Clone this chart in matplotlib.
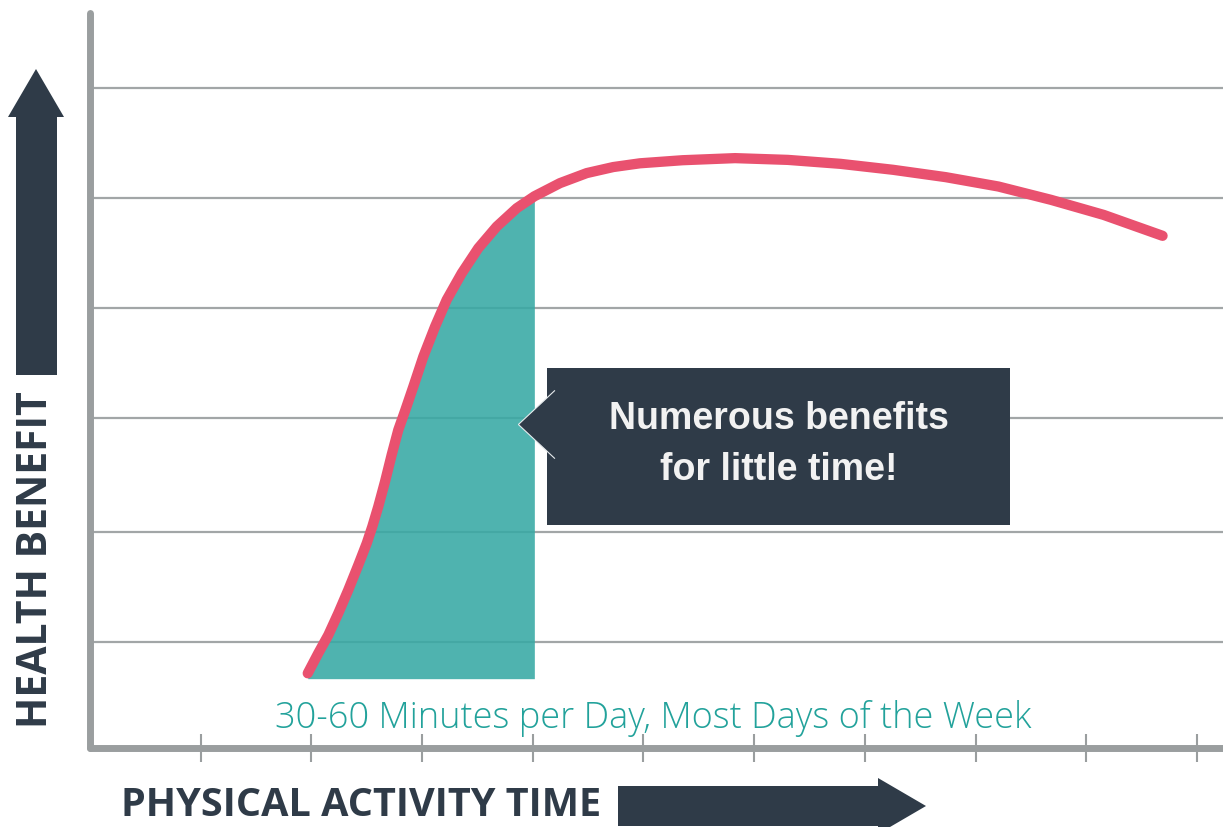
import matplotlib
matplotlib.use("Agg")
import matplotlib.pyplot as plt
from matplotlib.patches import Polygon, Rectangle
import numpy as np

# curve (x in tick units, y in gridline units)
time_x = [1.967, 2.062, 2.153, 2.243, 2.333, 2.424, 2.500, 2.550, 2.604,
          2.665, 2.725, 2.785, 2.846, 2.921, 3.011, 3.117, 3.222, 3.358,
          3.508, 3.674, 3.855, 4.014, 4.246, 4.487, 4.727, 4.968, 5.353,
          5.827, 6.305, 6.780, 7.254, 7.731, 8.206, 8.681, 9.157, 9.689]
benefit_y = [0.679, 0.861, 1.027, 1.225, 1.436, 1.664, 1.861, 2.012, 2.194,
             2.421, 2.664, 2.891, 3.064, 3.285, 3.557, 3.830, 4.073, 4.315,
             4.543, 4.739, 4.906, 5.014, 5.134, 5.225, 5.280, 5.314, 5.342,
             5.361, 5.345, 5.309, 5.255, 5.188, 5.103, 4.982, 4.845, 4.655]
band_start, band_end = 1.967, 4.014
band_floor = 0.63
grid_y = [0.96, 1.96, 3.0, 4.0, 5.0, 6.0]
tick_x = [1, 2, 3, 4, 5, 6, 7, 8, 9, 10]

callout_text = "Numerous benefits\nfor little time!"
caption = "30-60 Minutes per Day, Most Days of the Week"
ylabel = "HEALTH BENEFIT"
xlabel = "PHYSICAL ACTIVITY TIME"

PINK = "#e9516f"
TEAL = "#37a9a4"
DARK = "#2f3b48"
GRAY = "#9a9e9f"
CAPTION_TEAL = "#22a29b"

W, H = 1223, 827
fig = plt.figure(figsize=(W / 100, H / 100), dpi=100)

ax = fig.add_axes([90 / W, (H - 748) / H, (W - 90) / W, (748 - 13) / H])
ax.set_xlim(0, 10.235)
ax.set_ylim(0, 6.68)

# gridlines
for g in grid_y:
    ax.axhline(g, color="#a2a6a7", lw=1.6, zorder=1)

# shaded band under the curve
bx = np.array(time_x)
by = np.array(benefit_y)
m = (bx >= band_start) & (bx <= band_end)
ax.fill_between(bx[m], band_floor, by[m], color=TEAL, alpha=0.88, lw=0, zorder=2)

# benefit curve
ax.plot(time_x, benefit_y, color=PINK, lw=7.4, solid_capstyle="round",
        solid_joinstyle="round", zorder=4)

# callout box with pointer
ax.add_patch(Rectangle((4.13, 2.03), 4.18, 1.42, facecolor=DARK, lw=0, zorder=5))
ax.add_patch(Polygon([(4.20, 3.25), (3.87, 2.94), (4.20, 2.63)], closed=False,
                     facecolor=DARK, edgecolor="#e8ecee", lw=0.8, zorder=5))
ax.text(6.22, 2.76, callout_text, ha="center", va="center", color="#f2f2f2",
        fontsize=27, fontweight="bold", family="Liberation Sans",
        linespacing=1.55, zorder=6)

# caption
ax.text(5.09, 0.265, caption, ha="center", va="center", color=CAPTION_TEAL,
        fontsize=26, family="Open Sans", fontweight="light", zorder=6)

# axes styling
for s in ["top", "right"]:
    ax.spines[s].set_visible(False)
for s in ["left", "bottom"]:
    ax.spines[s].set_color(GRAY)
    ax.spines[s].set_linewidth(5)
    ax.spines[s].set_capstyle("round")
ax.set_yticks([])
ax.set_xticks(tick_x)
ax.set_xticklabels([])
ax.tick_params(axis="x", direction="inout", length=20, width=1.5, color=GRAY)

# overlay in pixel coords for the axis arrows and titles
ov = fig.add_axes([0, 0, 1, 1], zorder=10)
ov.set_xlim(0, W)
ov.set_ylim(H, 0)
ov.axis("off")
ov.patch.set_alpha(0)

ov.add_patch(Polygon([(16, 375), (16, 117), (8, 117), (36, 69), (64, 117),
                      (57, 117), (57, 375)], facecolor=DARK, lw=0))
ov.add_patch(Polygon([(618, 786), (878, 786), (878, 778), (926, 806),
                      (878, 834), (878, 826), (618, 826)], facecolor=DARK, lw=0))

ov.text(37, 560, ylabel, rotation=90, ha="center", va="center", color=DARK,
        fontsize=29.5, fontweight="bold", family="Open Sans")
ov.text(361, 806, xlabel, ha="center", va="center", color=DARK,
        fontsize=28.5, fontweight="bold", family="Open Sans")

fig.savefig("out.png", dpi=100)
